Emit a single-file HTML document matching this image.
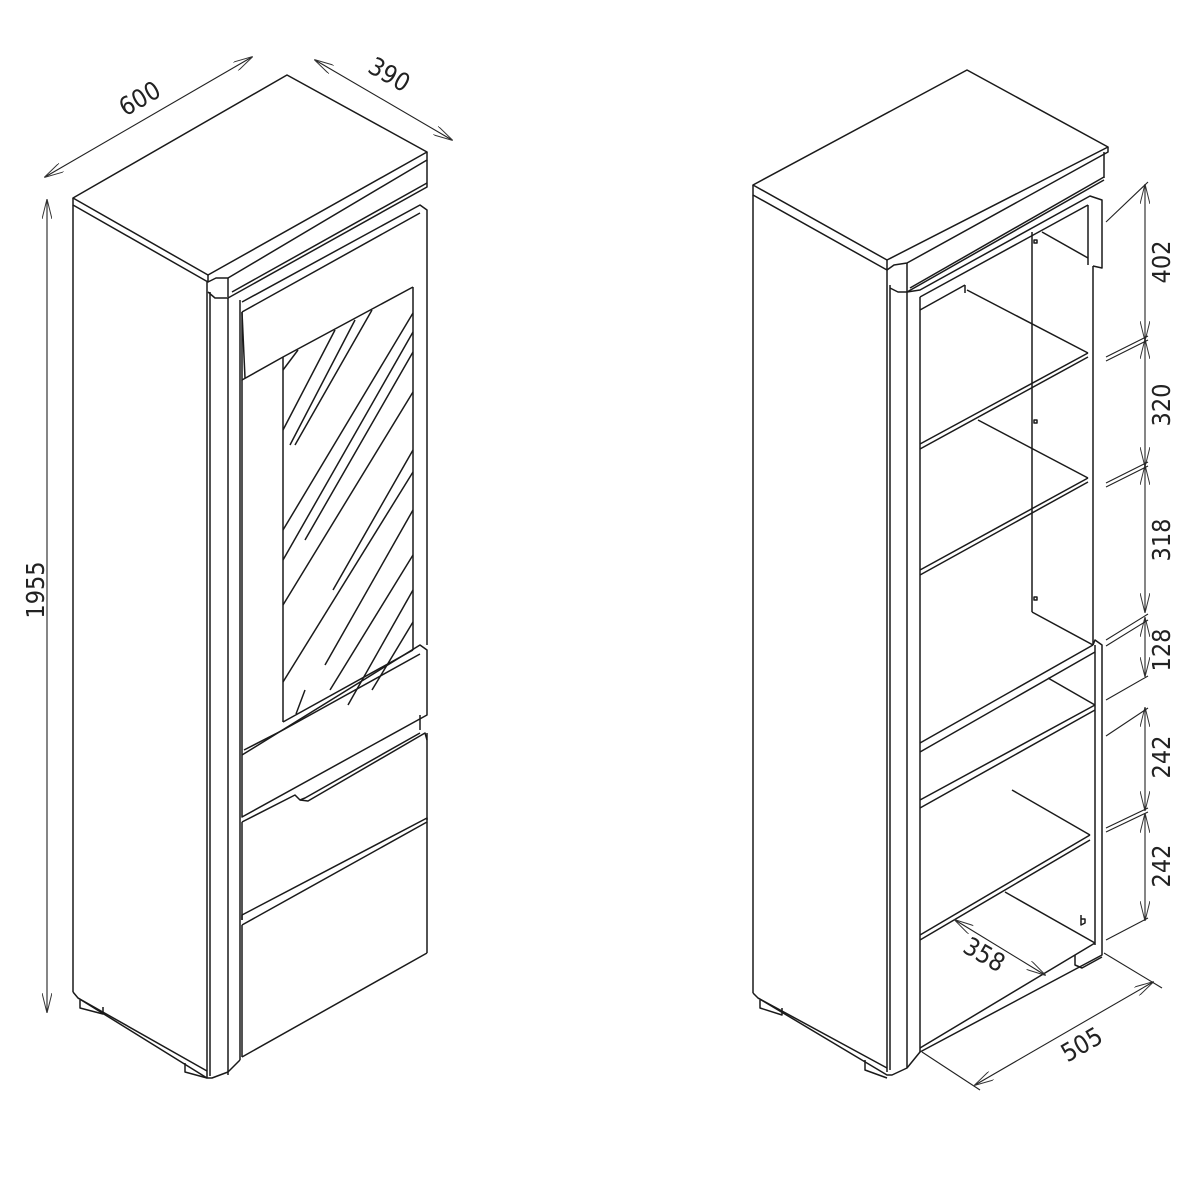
<!DOCTYPE html>
<html><head><meta charset="utf-8"><style>
html,body{margin:0;padding:0;background:#fff}
svg{display:block}
text{font-family:"DejaVu Sans Condensed","Liberation Sans Narrow","Liberation Sans",sans-serif;font-size:25px;fill:#222}
</style></head><body>
<svg width="1200" height="1200" viewBox="0 0 1200 1200" xmlns="http://www.w3.org/2000/svg">
<defs>
<marker id="a" viewBox="0 0 20 10" refX="19" refY="5" markerWidth="20" markerHeight="10" markerUnits="userSpaceOnUse" orient="auto-start-reverse">
<path d="M0,0 L20,5 L0,10" fill="none" stroke="#333" stroke-width="1"/></marker>
</defs>
<g fill="none" stroke="#1a1a1a" stroke-width="1.5" stroke-linejoin="round">
<polygon points="73,198 287,75 427,152 208,275" fill="#fff"/>
<polyline points="73,198 73,205 208,282 208,275"/>
<polyline points="208,282 216,278 228,278 427,160 427,152"/>
<line x1="228" y1="278" x2="228" y2="297"/>
<polyline points="427,160 427,187 228,298 215,298 208,292"/>
<line x1="232" y1="292" x2="427" y2="183"/>
<line x1="73" y1="205" x2="73" y2="992"/>
<line x1="207" y1="282" x2="207" y2="1078"/>
<line x1="210" y1="292" x2="210" y2="1076"/>
<line x1="228" y1="298" x2="228" y2="1075"/>
<line x1="240" y1="300" x2="240" y2="1060"/>
<polyline points="73,992 78,998 207,1078 212,1078 228,1072 240,1060"/>
<line x1="78" y1="998" x2="207" y2="1071"/>
<polyline points="80,1000 80,1008 103,1014 103,1007"/>
<polyline points="185,1063 185,1072 207,1078"/>
<polyline points="242,302 420,205 427,210 427,272"/>
<line x1="242" y1="312" x2="420" y2="213"/>
<polyline points="242,312 242,380 283,357 413,287"/>
<line x1="242" y1="312" x2="245" y2="378"/>
<line x1="283" y1="357" x2="283" y2="722"/>
<line x1="413" y1="287" x2="413" y2="650"/>
<line x1="427" y1="272" x2="427" y2="645"/>
<line x1="242" y1="380" x2="242" y2="755"/>
<line x1="298" y1="350" x2="283" y2="370"/>
<line x1="335" y1="330" x2="283" y2="430"/>
<line x1="355" y1="320" x2="290" y2="445"/>
<line x1="372" y1="310" x2="295" y2="445"/>
<line x1="413" y1="313" x2="283" y2="530"/>
<line x1="413" y1="332" x2="283" y2="560"/>
<line x1="413" y1="352" x2="305" y2="540"/>
<line x1="413" y1="392" x2="283" y2="605"/>
<line x1="413" y1="450" x2="333" y2="590"/>
<line x1="413" y1="472" x2="283" y2="682"/>
<line x1="413" y1="510" x2="325" y2="665"/>
<line x1="413" y1="555" x2="330" y2="690"/>
<line x1="413" y1="590" x2="348" y2="705"/>
<line x1="413" y1="622" x2="372" y2="690"/>
<line x1="305" y1="690" x2="296" y2="714"/>
<line x1="283" y1="722" x2="413" y2="650"/>
<polyline points="242,755 420,645 427,650 427,715 242,817 242,755"/>
<line x1="244" y1="750" x2="283" y2="730"/>
<line x1="283" y1="730" x2="420" y2="654"/>
<line x1="420" y1="715" x2="420" y2="730"/>
<polyline points="242,822 295,795 300,800 308,801 425,733 427,740"/>
<polyline points="300,800 305,798 420,733"/>
<line x1="427" y1="733" x2="427" y2="820"/>
<line x1="242" y1="822" x2="242" y2="920"/>
<polyline points="242,920 242,915 427,818 427,822 242,925"/>
<line x1="242" y1="925" x2="242" y2="1057"/>
<line x1="427" y1="822" x2="427" y2="953"/>
<line x1="242" y1="1057" x2="427" y2="953"/>
</g>
<g stroke="#222" stroke-width="1.1" fill="none">
<line x1="47" y1="200" x2="47" y2="1012" marker-start="url(#a)" marker-end="url(#a)"/>
<line x1="45" y1="177" x2="252" y2="57" marker-start="url(#a)" marker-end="url(#a)"/>
<line x1="315" y1="60" x2="452" y2="140" marker-start="url(#a)" marker-end="url(#a)"/>
</g>
<text transform="translate(44,590) rotate(-90)" text-anchor="middle">1955</text>
<text transform="translate(144,106) rotate(-30)" text-anchor="middle">600</text>
<text transform="translate(385,82) rotate(30)" text-anchor="middle">390</text>

<g fill="none" stroke="#1a1a1a" stroke-width="1.5" stroke-linejoin="round">
<polygon points="753,185 967,70 1108,147 887,260" fill="#fff"/>
<polyline points="753,185 753,195 887,270 887,260"/>
<polyline points="887,270 894,265 907,263 1108,152 1108,147"/>
<line x1="1104" y1="152" x2="1104" y2="178"/>
<polyline points="907,263 907,292 898,292 890,288"/>
<line x1="907" y1="292" x2="1104" y2="180"/>
<line x1="910" y1="288" x2="1104" y2="177"/>
<line x1="753" y1="195" x2="753" y2="993"/>
<line x1="887" y1="270" x2="887" y2="1072"/>
<line x1="890" y1="285" x2="890" y2="1070"/>
<line x1="907" y1="292" x2="907" y2="1068"/>
<line x1="920" y1="297" x2="920" y2="1052"/>
<polyline points="753,993 758,998 887,1075 892,1075 907,1068 920,1052"/>
<line x1="758" y1="998" x2="887" y2="1068"/>
<polyline points="760,1000 760,1008 782,1015 782,1008"/>
<polyline points="865,1060 865,1070 887,1078"/>
<polyline points="907,292 920,290 1090,196 1102,200 1102,268 1093,266"/>
<line x1="920" y1="297" x2="1088" y2="205"/>
<line x1="1088" y1="205" x2="1088" y2="265"/>
<line x1="920" y1="310" x2="965" y2="285"/>
<line x1="965" y1="285" x2="965" y2="293"/>
<line x1="1042" y1="232" x2="1088" y2="258"/>
<line x1="1032" y1="232" x2="1032" y2="612"/>
<line x1="1093" y1="266" x2="1093" y2="645"/>
<rect x="1034" y="240" width="3" height="3"/>
<rect x="1034" y="420" width="3" height="3"/>
<rect x="1034" y="597" width="3" height="3"/>
<line x1="967" y1="290" x2="1088" y2="353"/>
<line x1="1088" y1="353" x2="920" y2="444"/>
<line x1="1088" y1="357" x2="920" y2="449"/>
<line x1="978" y1="420" x2="1088" y2="478"/>
<line x1="1088" y1="478" x2="920" y2="570"/>
<line x1="1088" y1="482" x2="920" y2="575"/>
<line x1="1032" y1="612" x2="1093" y2="645"/>
<polyline points="1093,645 1095,640 1102,645 1102,945"/>
<line x1="1095" y1="645" x2="1095" y2="945"/>
<line x1="1093" y1="645" x2="920" y2="743"/>
<line x1="1095" y1="652" x2="920" y2="752"/>
<line x1="1048" y1="678" x2="1095" y2="705"/>
<line x1="1095" y1="705" x2="920" y2="800"/>
<line x1="1095" y1="710" x2="920" y2="808"/>
<line x1="1012" y1="790" x2="1090" y2="835"/>
<line x1="1090" y1="835" x2="920" y2="935"/>
<line x1="1090" y1="840" x2="920" y2="940"/>
<line x1="1005" y1="892" x2="1095" y2="943"/>
<line x1="1095" y1="943" x2="920" y2="1048"/>
<polyline points="1102,945 1102,955 920,1052"/>
<polyline points="1075,955 1075,965 1082,968 1102,957"/>
<polyline points="1081,915 1081,925 1085,923 1085,919 1081,919"/>
</g>
<g stroke="#222" stroke-width="1.1" fill="none">
<line x1="1145" y1="185" x2="1145" y2="340" marker-start="url(#a)" marker-end="url(#a)"/>
<line x1="1145" y1="340" x2="1145" y2="466" marker-start="url(#a)" marker-end="url(#a)"/>
<line x1="1145" y1="466" x2="1145" y2="612" marker-start="url(#a)" marker-end="url(#a)"/>
<line x1="1145" y1="618" x2="1145" y2="676" marker-start="url(#a)" marker-end="url(#a)"/>
<line x1="1145" y1="708" x2="1145" y2="810" marker-start="url(#a)" marker-end="url(#a)"/>
<line x1="1145" y1="814" x2="1145" y2="920" marker-start="url(#a)" marker-end="url(#a)"/>
<line x1="1106" y1="222" x2="1148" y2="182"/>
<line x1="1106" y1="357" x2="1148" y2="336"/>
<line x1="1106" y1="361" x2="1148" y2="340"/>
<line x1="1106" y1="483" x2="1148" y2="462"/>
<line x1="1106" y1="487" x2="1148" y2="466"/>
<line x1="1106" y1="640" x2="1148" y2="614"/>
<line x1="1106" y1="646" x2="1148" y2="620"/>
<line x1="1106" y1="700" x2="1148" y2="676"/>
<line x1="1106" y1="736" x2="1148" y2="708"/>
<line x1="1106" y1="828" x2="1148" y2="808"/>
<line x1="1106" y1="832" x2="1148" y2="812"/>
<line x1="1106" y1="940" x2="1148" y2="918"/>
<line x1="955" y1="920" x2="1045" y2="975" marker-start="url(#a)" marker-end="url(#a)"/>
<line x1="975" y1="1085" x2="1153" y2="982" marker-start="url(#a)" marker-end="url(#a)"/>
<line x1="922" y1="1052" x2="980" y2="1090"/>
<line x1="1104" y1="953" x2="1162" y2="988"/>
</g>
<text transform="translate(1170,262) rotate(-90)" text-anchor="middle">402</text>
<text transform="translate(1170,405) rotate(-90)" text-anchor="middle">320</text>
<text transform="translate(1170,540) rotate(-90)" text-anchor="middle">318</text>
<text transform="translate(1170,650) rotate(-90)" text-anchor="middle">128</text>
<text transform="translate(1170,757) rotate(-90)" text-anchor="middle">242</text>
<text transform="translate(1170,866) rotate(-90)" text-anchor="middle">242</text>
<text transform="translate(980,962) rotate(30)" text-anchor="middle">358</text>
<text transform="translate(1086,1052) rotate(-30)" text-anchor="middle">505</text>
</svg>
</body></html>
